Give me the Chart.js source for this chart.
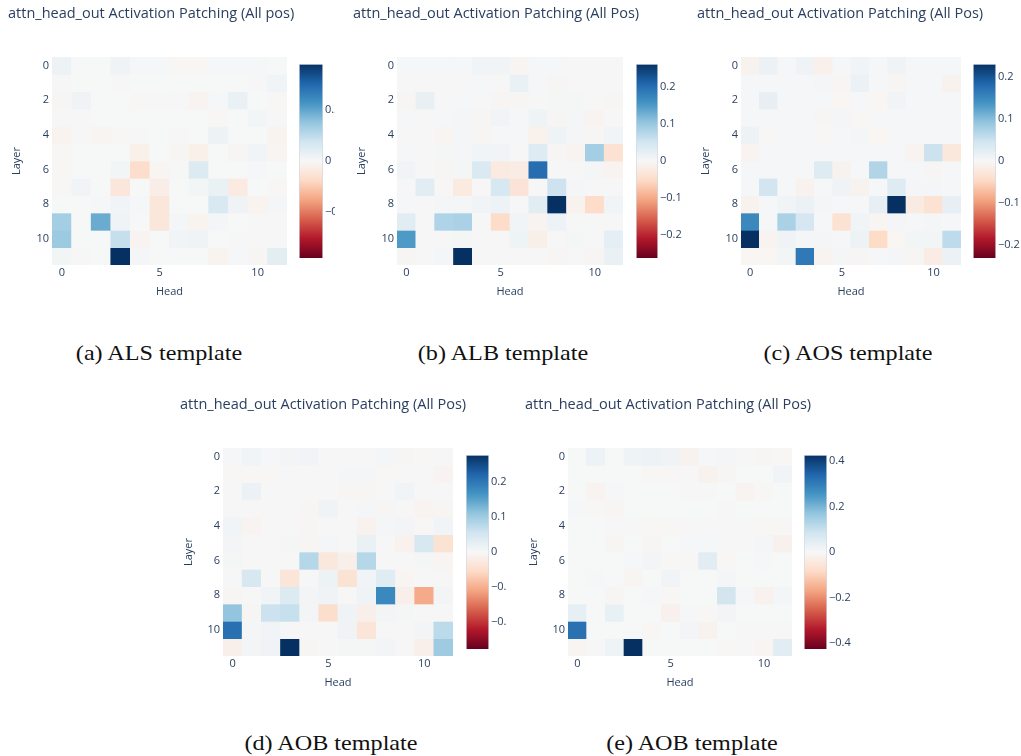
<!DOCTYPE html>
<html>
<head>
<meta charset="utf-8">
<script src="https://cdn.jsdelivr.net/npm/chart.js@4.4.1/dist/chart.umd.min.js"></script>
<style>
  body { margin: 0; background: #fff; width: 1021px; height: 756px; position: relative; overflow: hidden; }
  canvas { position: absolute; }
  .cap { position: absolute; font-family: "Liberation Serif", "Times New Roman", serif; font-size: 21px; color: #111;
         transform: translate(-50%, -50%) scaleX(1.15); white-space: nowrap; }
</style>
</head>
<body>
<script>
// === Données ===
const heads = [0, 1, 2, 3, 4, 5, 6, 7, 8, 9, 10, 11];
const layers = [0, 1, 2, 3, 4, 5, 6, 7, 8, 9, 10, 11];
const headTicks = [0, 5, 10];
const layerTicks = [0, 2, 4, 6, 8, 10];

// (a) ALS template
const alsValues = [
  [0.02, 0.002, 0.002, 0.015, 0.005, 0.005, -0.003, -0.003, 0.005, 0.005, 0.005, 0.002],
  [0.003, 0.002, 0.002, 0.003, 0.002, 0.002, 0.002, 0.002, 0.002, 0.002, 0.003, 0.012],
  [-0.005, 0.015, 0.002, 0.002, -0.003, 0.003, 0.003, -0.01, 0.005, 0.025, 0.002, -0.003],
  [0.003, 0.003, 0.002, 0.002, 0.002, 0.002, 0.002, 0.002, -0.003, 0.002, 0.01, 0.003],
  [-0.012, 0.003, -0.008, -0.003, 0.003, 0.002, 0.003, 0.002, 0.02, 0.002, 0.002, -0.012],
  [-0.003, 0.002, 0.002, 0.002, -0.02, 0.002, -0.005, -0.02, 0.002, -0.005, 0.012, -0.008],
  [-0.003, 0.002, 0.002, 0.01, -0.07, -0.008, 0.003, 0.055, 0.002, 0.002, 0.005, 0.002],
  [-0.003, 0.012, 0.002, -0.045, 0.002, -0.025, 0.002, 0.01, 0.025, -0.035, 0.002, -0.003],
  [0.002, 0.002, 0.005, 0.012, 0.005, -0.045, 0.002, 0.002, 0.06, 0.015, -0.012, 0.008],
  [0.13, 0.002, 0.19, 0.015, 0.002, -0.045, 0.008, -0.012, 0.008, 0.002, 0.003, 0.003],
  [0.14, 0.002, 0.002, 0.09, -0.01, 0.002, 0.012, 0.015, 0.002, 0.003, 0.003, 0.003],
  [0.01, 0.003, 0.002, 0.38, 0.008, 0.002, 0.002, 0.002, -0.012, 0.005, -0.005, 0.04]
];
// (b) ALB template
const albValues = [
  [0.003, 0.003, 0.003, 0.003, 0.008, 0.008, -0.006, 0.003, 0.003, 0.002, 0.002, 0.002],
  [0.002, 0.002, 0.002, 0.002, 0.003, 0.002, 0.018, 0.003, -0.004, 0.002, 0.002, 0.002],
  [-0.004, 0.02, 0.002, 0.003, 0.002, -0.003, -0.003, 0.002, 0.004, 0.004, 0.002, -0.003],
  [0.003, 0.002, 0.003, 0.006, -0.004, 0.008, 0.003, 0.012, -0.004, 0.006, -0.008, 0.002],
  [0.002, 0.002, -0.006, 0.006, -0.003, 0.003, 0.003, -0.012, 0.012, 0.006, -0.003, 0.01],
  [0.003, 0.002, 0.004, 0.006, 0.008, 0.008, 0.002, 0.035, -0.003, -0.008, 0.09, -0.04],
  [0.01, 0.002, -0.004, 0.004, 0.04, -0.025, -0.02, 0.2, 0.002, 0.002, 0.006, -0.008],
  [0.002, 0.03, -0.002, -0.025, 0.002, 0.045, -0.035, 0.002, 0.055, 0.006, 0.002, 0.002],
  [0.003, 0.002, 0.006, 0.006, 0.008, 0.015, 0.002, 0.03, 0.262, -0.01, -0.05, 0.01],
  [0.03, 0.002, 0.08, 0.085, 0.002, -0.05, 0.01, -0.008, 0.015, 0.002, 0.002, 0.002],
  [0.15, 0.002, 0.002, 0.004, 0.002, 0.002, 0.012, -0.015, 0.002, 0.004, 0.002, 0.025],
  [-0.004, 0.002, 0.006, 0.262, 0.002, 0.002, 0.002, 0.002, -0.003, 0.002, -0.004, 0.018]
];
// (c) AOS template
const aosValues = [
  [-0.008, 0.015, 0.002, 0.01, -0.012, 0.003, 0.008, 0.002, 0.01, 0.002, 0.002, 0.002],
  [0.002, 0.002, 0.002, 0.002, 0.004, -0.003, 0.015, 0.002, -0.003, 0.002, 0.002, -0.008],
  [0.002, 0.02, 0.002, 0.002, 0.003, -0.004, 0.002, -0.004, 0.008, 0.003, 0.003, 0.002],
  [0.002, 0.003, 0.002, 0.002, -0.003, 0.004, -0.002, 0.002, 0.002, 0.002, 0.002, 0.002],
  [0.012, -0.002, 0.002, 0.002, -0.002, 0.002, 0.005, -0.004, 0.002, 0.002, 0.002, 0.002],
  [-0.006, 0.002, 0.002, 0.002, 0.002, 0.002, 0.002, 0.002, 0.002, -0.006, 0.05, -0.025],
  [0.002, 0.002, 0.002, 0.002, 0.03, -0.008, 0.003, 0.07, 0.002, 0.002, -0.003, 0.002],
  [0.002, 0.045, 0.002, -0.01, 0.003, 0.01, -0.008, 0.003, 0.03, 0.004, 0.004, 0.002],
  [-0.008, 0.002, 0.008, 0.015, 0.004, 0.003, 0.003, 0.02, 0.231, -0.02, -0.035, 0.02],
  [0.15, 0.002, 0.075, 0.04, 0.002, -0.035, 0.008, -0.005, 0.004, 0.002, 0.005, 0.002],
  [0.231, -0.006, 0.01, 0.004, 0.004, 0.002, 0.012, -0.045, -0.004, 0.006, 0.006, 0.06],
  [-0.004, -0.004, 0.006, 0.165, -0.006, 0.004, -0.003, 0.002, 0.004, -0.003, -0.018, 0.015]
];
// (d) AOB template
const aobValues = [
  [0.003, 0.01, 0.003, 0.008, 0.01, 0.002, 0.002, 0.002, 0.006, -0.003, -0.002, 0.002],
  [-0.002, -0.002, -0.002, 0.002, 0.002, 0.002, 0.006, 0.006, -0.002, 0.002, 0.002, -0.008],
  [0.002, 0.018, 0.002, 0.002, 0.002, 0.002, -0.003, -0.003, 0.002, 0.01, 0.002, 0.002],
  [0.002, 0.002, 0.002, 0.002, -0.004, 0.012, 0.002, 0.006, -0.004, 0.002, -0.008, -0.003],
  [0.01, -0.008, 0.002, 0.002, -0.004, 0.002, 0.002, -0.012, 0.006, 0.008, -0.002, 0.01],
  [0.008, 0.002, 0.002, 0.004, -0.004, 0.006, 0.002, 0.02, 0.002, -0.012, 0.045, -0.04],
  [0.004, 0.002, 0.002, 0.002, 0.08, -0.03, -0.015, 0.08, 0.002, 0.002, 0.004, -0.006],
  [0.002, 0.045, 0.002, -0.035, 0.002, 0.015, -0.04, 0.01, 0.035, -0.006, 0.002, 0.002],
  [-0.004, 0.002, 0.01, 0.04, 0.008, 0.012, 0.002, 0.012, 0.18, -0.015, -0.105, 0.008],
  [0.11, -0.004, 0.06, 0.065, 0.008, -0.05, 0.012, -0.015, 0.008, 0.004, 0.002, 0.002],
  [0.21, 0.006, 0.01, 0.002, 0.002, 0.002, 0.012, -0.035, 0.002, 0.002, 0.008, 0.075],
  [-0.015, 0.008, 0.012, 0.278, -0.004, 0.002, 0.004, 0.004, 0.008, 0.002, -0.015, 0.1]
];
// (e) AOB template
const aob2Values = [
  [0.002, 0.025, 0.002, 0.02, 0.025, 0.018, -0.015, 0.005, 0.01, 0.003, -0.005, -0.004],
  [0.002, 0.002, 0.002, 0.002, -0.003, -0.003, 0.003, -0.015, -0.005, 0.002, 0.002, 0.015],
  [0.002, -0.012, 0.005, 0.002, 0.002, 0.002, 0.003, 0.003, 0.002, -0.012, -0.004, 0.002],
  [0.006, -0.004, -0.006, 0.002, 0.002, 0.002, 0.002, 0.002, 0.003, 0.002, 0.002, 0.002],
  [0.002, 0.002, 0.003, 0.003, -0.003, -0.003, 0.003, 0.003, 0.003, 0.003, -0.003, -0.003],
  [0.002, 0.002, -0.006, 0.002, -0.006, 0.002, 0.004, 0.006, 0.003, 0.003, 0.01, -0.02],
  [0.002, 0.002, 0.002, 0.005, 0.012, -0.003, -0.003, 0.05, -0.004, 0.002, 0.004, 0.002],
  [0.002, 0.004, 0.002, -0.01, 0.002, 0.015, 0.002, 0.002, 0.008, 0.002, 0.002, 0.002],
  [0.002, 0.002, -0.006, 0.002, 0.005, -0.003, 0.002, 0.002, 0.08, 0.004, -0.018, 0.01],
  [0.04, 0.002, 0.035, 0.002, 0.002, -0.02, 0.005, -0.004, 0.012, 0.002, 0.002, 0.002],
  [0.32, 0.002, 0.002, 0.002, -0.003, 0.002, 0.012, -0.015, 0.002, 0.003, 0.003, 0.003],
  [-0.01, 0.003, 0.02, 0.427, 0.002, 0.002, 0.002, 0.002, -0.004, 0.003, -0.01, 0.05]
];

const zmaxA = 0.38, zmaxB = 0.262, zmaxC = 0.231, zmaxD = 0.278, zmaxE = 0.427;
const cbTicksA = [-0.2, 0, 0.2];
const cbTicksBCD = [-0.2, -0.1, 0, 0.1, 0.2];
const cbTicksE = [-0.4, -0.2, 0, 0.2, 0.4];

// === Mise en page ===
const TXT = "#2a3f5f";
const FONT = "'Open Sans', sans-serif";
const panels = [
  { values: alsValues, zmax: zmaxA, cbTicks: cbTicksA, title: "attn_head_out Activation Patching (All pos)",
    x: 8, y: 0, axisW: 44, plotW: 235, cbX: 299, cbW: 24, clip: 335, cap: "(a) ALS template", capX: 159, capY: 353 },
  { values: albValues, zmax: zmaxB, cbTicks: cbTicksBCD, title: "attn_head_out Activation Patching (All Pos)",
    x: 353, y: 0, axisW: 44, plotW: 226, cbX: 636, cbW: 22, clip: 682, cap: "(b) ALB template", capX: 503, capY: 353 },
  { values: aosValues, zmax: zmaxC, cbTicks: cbTicksBCD, title: "attn_head_out Activation Patching (All Pos)",
    x: 697, y: 0, axisW: 44, plotW: 220, cbX: 973, cbW: 23, clip: 1021, cap: "(c) AOS template", capX: 848, capY: 353 },
  { values: aobValues, zmax: zmaxD, cbTicks: cbTicksBCD, title: "attn_head_out Activation Patching (All Pos)",
    x: 180, y: 391, axisW: 43, plotW: 230, cbX: 466, cbW: 23, clip: 507, cap: "(d) AOB template", capX: 331, capY: 743 },
  { values: aob2Values, zmax: zmaxE, cbTicks: cbTicksE, title: "attn_head_out Activation Patching (All Pos)",
    x: 525, y: 391, axisW: 43, plotW: 224, cbX: 804, cbW: 23, clip: 1021, cap: "(e) AOB template", capX: 692, capY: 743 }
];

// plotly RdBu
const rdbu = [[103,0,31],[178,24,43],[214,96,77],[244,165,130],[253,219,199],[247,247,247],
              [209,229,240],[146,197,222],[67,147,195],[33,102,172],[5,48,97]];

function colorFor(v, zmax) {
  let t = (v + zmax) / (2 * zmax);
  t = Math.max(0, Math.min(1, t)) * 10;
  const i = Math.min(9, Math.floor(t));
  const f = t - i;
  const a = rdbu[i], b = rdbu[i + 1];
  const c = a.map((x, k) => Math.round(x + (b[k] - x) * f));
  return `rgb(${c[0]},${c[1]},${c[2]})`;
}

function fmt(v) {
  if (v === 0) return "0";
  return v < 0 ? "\u2212" + Math.abs(v) : String(v);
}

function makeCanvas(left, top, w, h) {
  const c = document.createElement("canvas");
  c.width = w; c.height = h;
  c.style.left = left + "px"; c.style.top = top + "px";
  document.body.appendChild(c);
  return c;
}

const H = 300;
const W = 330;

panels.forEach(p => {
  // === Heatmap ===
  const cv = makeCanvas(p.x, p.y, W, H);
  new Chart(cv, {
    type: "bar",
    data: {
      labels: heads,
      datasets: layers.map(r => ({
        data: heads.map(() => [r - 0.5, r + 0.5]),
        backgroundColor: p.values[r].map(v => colorFor(v, p.zmax)),
        borderWidth: 0,
        grouped: false,
        barPercentage: 1,
        categoryPercentage: 1
      }))
    },
    options: {
      responsive: false,
      animation: false,
      layout: { padding: 0, autoPadding: false },
      plugins: {
        legend: { display: false },
        tooltip: { enabled: false },
        title: {
          display: true, text: p.title, align: "start", color: TXT,
          font: { family: FONT, size: 14.5, weight: "normal" },
          padding: { top: 5.3, bottom: 34.3 }
        }
      },
      scales: {
        x: {
          grid: { display: false, drawTicks: false }, border: { display: false },
          ticks: {
            color: TXT, font: { family: FONT, size: 11 }, padding: 1, autoSkip: false, maxRotation: 0,
            callback: (val, idx) => headTicks.includes(heads[idx]) ? String(heads[idx]) : ""
          },
          title: { display: true, text: "Head", color: TXT, font: { family: FONT, size: 11 }, padding: { top: 2, bottom: 2 } },
          afterFit: s => { s.height = H - 265; }
        },
        y: {
          type: "linear", reverse: true, min: -0.5, max: 11.5,
          grid: { display: false, drawTicks: false }, border: { display: false },
          ticks: { color: TXT, font: { family: FONT, size: 11 }, padding: 3 },
          afterBuildTicks: s => { s.ticks = layerTicks.map(v => ({ value: v })); },
          title: { display: true, text: "Layer", color: TXT, font: { family: FONT, size: 11 }, padding: { top: 2, bottom: 2 } },
          afterFit: s => { s.width = p.axisW; }
        },
        // espace vide à droite pour que le titre garde toute la largeur
        spacer: {
          type: "linear", position: "right", axis: "y",
          grid: { display: false, drawTicks: false }, border: { display: false },
          ticks: { display: false },
          afterFit: s => { s.width = W - p.axisW - p.plotW; }
        }
      }
    }
  });

  // === Colorbar ===
  const cbCanvasW = p.clip - p.cbX;
  const cb = makeCanvas(p.cbX, p.y, cbCanvasW, H);
  new Chart(cb, {
    type: "bar",
    data: {
      labels: [""],
      datasets: [{
        data: [[-p.zmax, p.zmax]],
        backgroundColor: ctx => {
          const ch = ctx.chart;
          if (!ch.chartArea) return null;
          const ys = ch.scales.y;
          const g = ch.ctx.createLinearGradient(0, ys.getPixelForValue(p.zmax), 0, ys.getPixelForValue(-p.zmax));
          rdbu.forEach((c, i) => {
            const s = rdbu[rdbu.length - 1 - i];
            g.addColorStop(i / (rdbu.length - 1), `rgb(${s[0]},${s[1]},${s[2]})`);
          });
          return g;
        },
        borderWidth: 1,
        borderColor: "rgba(205,212,222,0.9)",
        barPercentage: 1,
        categoryPercentage: 1
      }]
    },
    options: {
      responsive: false,
      animation: false,
      layout: { padding: { left: 0, right: 0, top: 64, bottom: H - 258 }, autoPadding: false },
      plugins: { legend: { display: false }, tooltip: { enabled: false } },
      scales: {
        x: { display: false },
        y: {
          position: "right", min: -p.zmax, max: p.zmax,
          grid: { display: false, drawTicks: false }, border: { display: false },
          ticks: { color: TXT, font: { family: FONT, size: 11 }, padding: 2, callback: v => fmt(v) },
          afterBuildTicks: s => { s.ticks = p.cbTicks.map(v => ({ value: v })); },
          afterFit: s => { s.width = cbCanvasW - p.cbW; }
        }
      }
    }
  });

  // === Légende (sous-figure) ===
  const cap = document.createElement("div");
  cap.className = "cap";
  cap.textContent = p.cap;
  cap.style.left = p.capX + "px";
  cap.style.top = p.capY + "px";
  document.body.appendChild(cap);
});
</script>
</body>
</html>
